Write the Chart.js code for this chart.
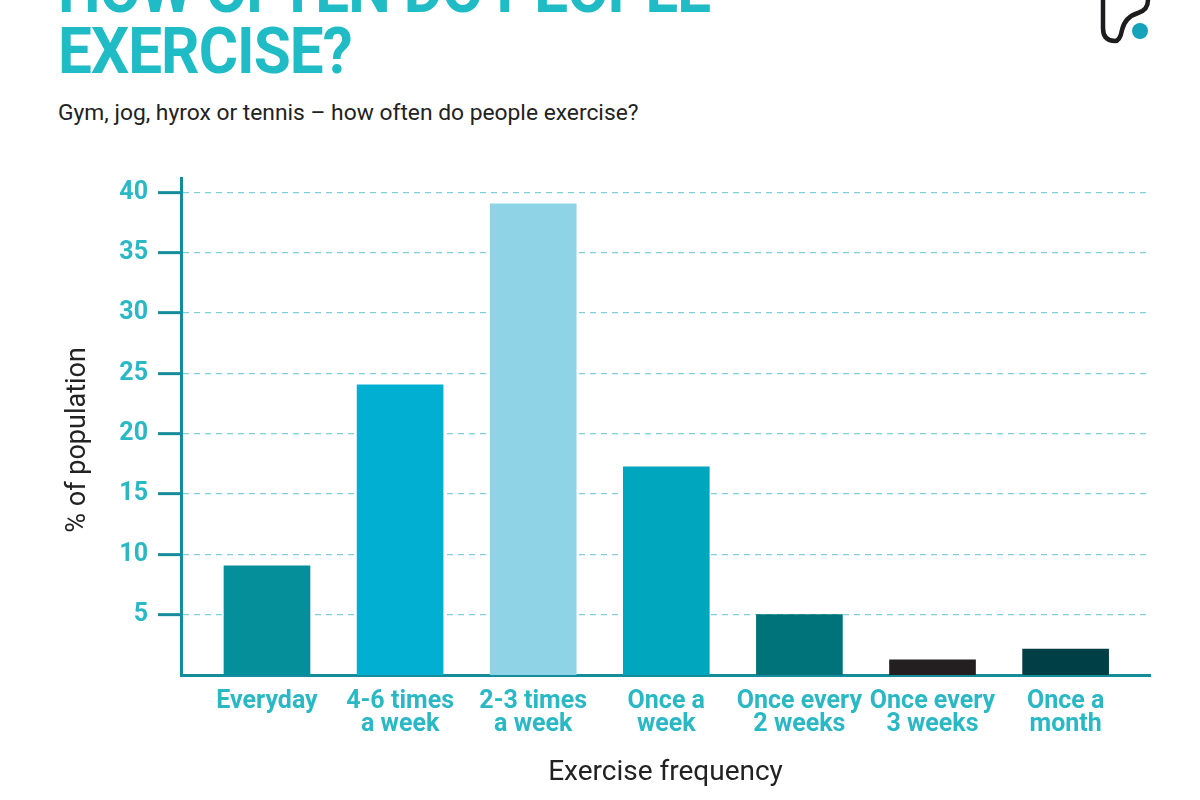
<!DOCTYPE html>
<html>
<head>
<meta charset="utf-8">
<script src="https://cdn.jsdelivr.net/npm/chart.js@4.4.1/dist/chart.umd.min.js"></script>
<style>
  html, body { margin:0; padding:0; background:#ffffff; }
  body { width:1200px; height:800px; overflow:hidden; position:relative; }
  #title { position:absolute; left:58px; top:-40px; font-family:Roboto,sans-serif; font-weight:bold; font-size:64px; line-height:61px; color:#20bcc6; white-space:nowrap; letter-spacing:-1px; transform:scaleX(0.94); transform-origin:0 0; }
  #subtitle { position:absolute; left:58px; top:100px; font-family:Roboto,sans-serif; font-size:22.8px; line-height:26px; color:#222222; white-space:nowrap; }
  #logo { position:absolute; left:0; top:0; }
  #wrap { position:absolute; left:0; top:0; width:1200px; height:800px; }
</style>
</head>
<body>
<div id="title">HOW OFTEN DO PEOPLE<br>EXERCISE?</div>
<div id="subtitle">Gym, jog, hyrox or tennis – how often do people exercise?</div>
<svg id="logo" width="1200" height="60" viewBox="0 0 1200 60">
  <path d="M1103,0 L1103,28 Q1103,41 1115,41 Q1120,41 1122,30 Q1125,17 1138,13 Q1148,10 1148,0" fill="none" stroke="#1d1d1f" stroke-width="4.5" stroke-linecap="round" stroke-linejoin="round"/>
  <circle cx="1140" cy="31" r="8" fill="#14a3bb"/>
</svg>
<div id="wrap"><canvas id="c" width="1200" height="800"></canvas></div>
<script>
// ---- data ----
const categories = [
  ["Everyday"],
  ["4-6 times", "a week"],
  ["2-3 times", "a week"],
  ["Once a", "week"],
  ["Once every", "2 weeks"],
  ["Once every", "3 weeks"],
  ["Once a", "month"]
];
const populationPct = [9.05, 24.05, 39.05, 17.25, 5.0, 1.25, 2.15];
const yTickValues = [5, 10, 15, 20, 25, 30, 35, 40];

// ---- styles ----
const barColors = ["#058f9b", "#00afd2", "#8fd4e6", "#00a6bd", "#00737a", "#231f20", "#013f47"];
const axisColor = "#148c99";
const tickLabelColor = "#2ab8c5";
const fontFam = "Roboto, sans-serif";

new Chart(document.getElementById('c'), {
  type: 'bar',
  data: {
    datasets: [{
      data: populationPct.map((v, i) => ({ x: i, y: v })),
      backgroundColor: barColors,
      borderWidth: 0,
      barThickness: 86
    }]
  },
  options: {
    responsive: false,
    animation: false,
    devicePixelRatio: 1,
    layout: { padding: { left: 0, right: 50, top: 178, bottom: 0 } },
    plugins: { legend: { display: false }, tooltip: { enabled: false }, title: { display: false } },
    scales: {
      x: {
        type: 'linear',
        offset: false,
        min: -0.646,
        max: 6.634,
        afterBuildTicks: (axis) => { axis.ticks = categories.map((_, i) => ({ value: i })); },
        afterFit: (s) => { s.height = 125; },
        ticks: {
          autoSkip: false, maxRotation: 0, minRotation: 0,
          callback: (v) => categories[v],
          color: tickLabelColor,
          font: { family: fontFam, weight: 'bold', size: 25, lineHeight: 0.92 },
          padding: 15
        },
        grid: { display: false, drawTicks: false, offset: false },
        border: { display: true, color: axisColor, width: 3 },
        title: {
          display: true, text: 'Exercise frequency', color: '#222222',
          font: { family: fontFam, size: 28 },
          padding: { top: 0, bottom: 10 }
        }
      },
      y: {
        min: 0,
        max: 41.2,
        afterBuildTicks: (axis) => { axis.ticks = yTickValues.map(v => ({ value: v })); },
        afterFit: (s) => { s.width = 181; },
        ticks: {
          color: tickLabelColor,
          font: { family: fontFam, weight: 'bold', size: 25 },
          padding: 10
        },
        grid: {
          color: '#7fd0da', lineWidth: 1.3,
          drawTicks: true, tickLength: 23, tickColor: axisColor, tickWidth: 3, tickBorderDash: []
        },
        border: { display: true, color: axisColor, width: 3, dash: [6, 5] },
        title: {
          display: true, text: '% of population\u00a0\u00a0\u00a0\u00a0', color: '#222222',
          font: { family: fontFam, size: 27 },
          padding: { top: 62, bottom: 0 }
        }
      }
    }
  }
});
</script>
</body>
</html>
